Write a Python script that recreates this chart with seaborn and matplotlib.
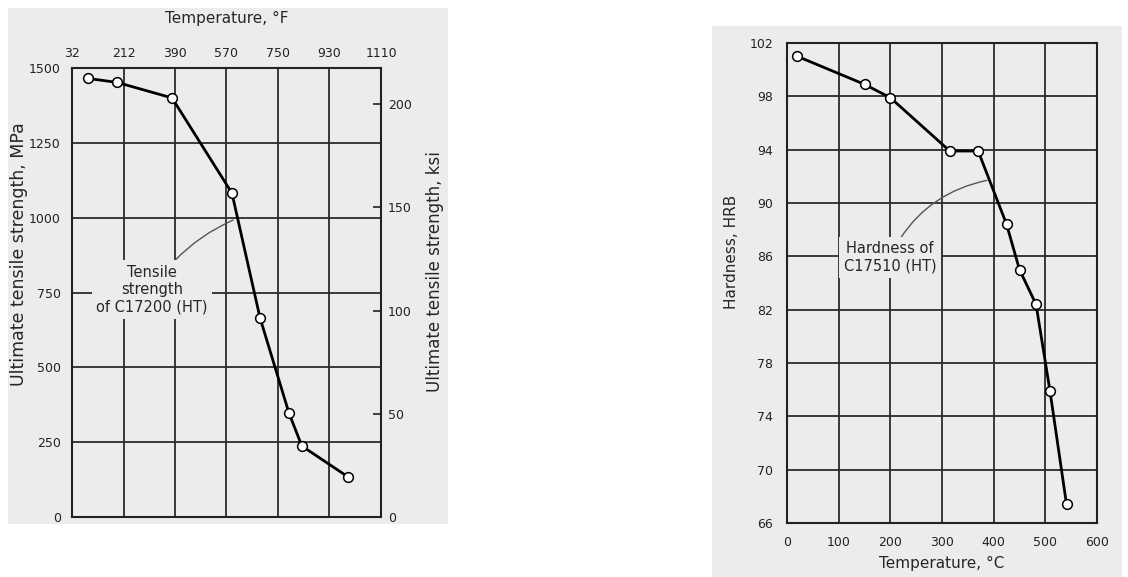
import numpy as np
import matplotlib
matplotlib.use("Agg")
import matplotlib.pyplot as plt
from matplotlib.patches import Rectangle
import seaborn as sns

# left chart: tensile strength of C17200 (HT) vs temperature in F
temp_f = [88, 189, 381, 590, 688, 789, 834, 995]
tensile_mpa = [1465, 1452, 1400, 1082, 665, 347, 237, 134]
f_ticks = [32, 212, 390, 570, 750, 930, 1110]
mpa_ticks = [0, 250, 500, 750, 1000, 1250, 1500]
ksi_ticks = [0, 50, 100, 150, 200]

# right chart: hardness of C17510 (HT) vs temperature in C
temp_c = [20, 150, 200, 315, 370, 425, 450, 482, 509, 541]
hardness_hrb = [101.0, 98.9, 97.9, 93.9, 93.9, 88.4, 85.0, 82.4, 75.9, 67.4]
c_ticks = [0, 100, 200, 300, 400, 500, 600]
hrb_ticks = [66, 70, 74, 78, 82, 86, 90, 94, 98, 102]

sns.set_style("ticks")
plt.rcParams["font.family"] = ["DejaVu Sans"]

W, H = 1128, 577
fig = plt.figure(figsize=(W / 100, H / 100), dpi=100)
panel = "#ececec"
fig.add_artist(Rectangle((8 / W, 53 / H), 440 / W, 516 / H, transform=fig.transFigure,
                         facecolor=panel, edgecolor="none", zorder=0))
fig.add_artist(Rectangle((712 / W, 0), 410 / W, 551 / H, transform=fig.transFigure,
                         facecolor=panel, edgecolor="none", zorder=0))

grid_kw = dict(color="#2b2b2b", linewidth=1.3)
line_kw = dict(color="black", linewidth=2.0, marker="o", markersize=7,
               markerfacecolor="white", markeredgecolor="black", markeredgewidth=1.1)

# ---------------- left chart ----------------
ax1 = fig.add_axes([72 / W, 60 / H, 309 / W, 449 / H])
ax1.set_facecolor("none")
sns.lineplot(x=temp_f, y=tensile_mpa, ax=ax1, zorder=5, **line_kw)
ax1.set_xlim(32, 1110)
ax1.set_ylim(0, 1500)
ax1.set_xticks(f_ticks)
ax1.set_yticks(mpa_ticks)
ax1.xaxis.tick_top()
ax1.tick_params(axis="both", length=0, labelsize=9, colors="#222")
ax1.tick_params(axis="x", pad=6)
ax1.tick_params(axis="y", pad=8)
ax1.grid(True, **grid_kw)
for s in ax1.spines.values():
    s.set_visible(True)
    s.set_linewidth(1.5)
    s.set_color("#222")
ax1.set_xlabel("Temperature, °F", fontsize=11)
ax1.xaxis.set_label_position("top")
ax1.xaxis.set_label_coords(0.5, 1.100)
ax1.set_ylabel("Ultimate tensile strength, MPa", fontsize=12.5)
ax1.yaxis.set_label_coords(-0.142, 0.586)

ax1r = ax1.twinx()
ax1r.set_ylim(0, 1500 / 6.894757)
ax1r.set_yticks(ksi_ticks)
ax1r.tick_params(axis="y", direction="in", length=6, width=1.2, labelsize=9, pad=5, colors="#222")
ax1r.set_ylabel("Ultimate tensile strength, ksi", fontsize=12)
ax1r.yaxis.set_label_coords(1.146, 0.546)
for s in ax1r.spines.values():
    s.set_visible(False)

ax1.annotate("Tensile\nstrength\nof C17200 (HT)", xy=(594, 992), xytext=(311, 760),
             ha="center", va="center", fontsize=10.5, linespacing=1.2, zorder=4,
             bbox=dict(boxstyle="square,pad=0.3", facecolor=panel, edgecolor="none"),
             arrowprops=dict(arrowstyle="-", color="#555", lw=1.0,
                             connectionstyle="arc3,rad=-0.15", shrinkA=0, shrinkB=0))

# ---------------- right chart ----------------
ax2 = fig.add_axes([787 / W, 54 / H, 310 / W, 480 / H])
ax2.set_facecolor("none")
sns.lineplot(x=temp_c, y=hardness_hrb, ax=ax2, zorder=5, **line_kw)
ax2.set_xlim(0, 600)
ax2.set_ylim(66, 102)
ax2.set_xticks(c_ticks)
ax2.set_yticks(hrb_ticks)
ax2.tick_params(axis="both", length=0, labelsize=9, colors="#222")
ax2.tick_params(axis="x", pad=9)
ax2.tick_params(axis="y", pad=10)
ax2.grid(True, **grid_kw)
for s in ax2.spines.values():
    s.set_visible(True)
    s.set_linewidth(1.5)
    s.set_color("#222")
ax2.set_xlabel("Temperature, °C", fontsize=11)
ax2.xaxis.set_label_coords(0.5, -0.069)
ax2.set_ylabel("Hardness, HRB", fontsize=11)
ax2.yaxis.set_label_coords(-0.155, 0.565)

ax2.annotate("Hardness of\nC17510 (HT)", xy=(387, 91.7), xytext=(199, 85.9),
             ha="center", va="center", fontsize=10.5, linespacing=1.2, zorder=4,
             bbox=dict(boxstyle="square,pad=0.3", facecolor=panel, edgecolor="none"),
             arrowprops=dict(arrowstyle="-", color="#555", lw=1.0,
                             connectionstyle="arc3,rad=-0.25", shrinkA=0, shrinkB=0))

fig.savefig("out.png", dpi=100)
